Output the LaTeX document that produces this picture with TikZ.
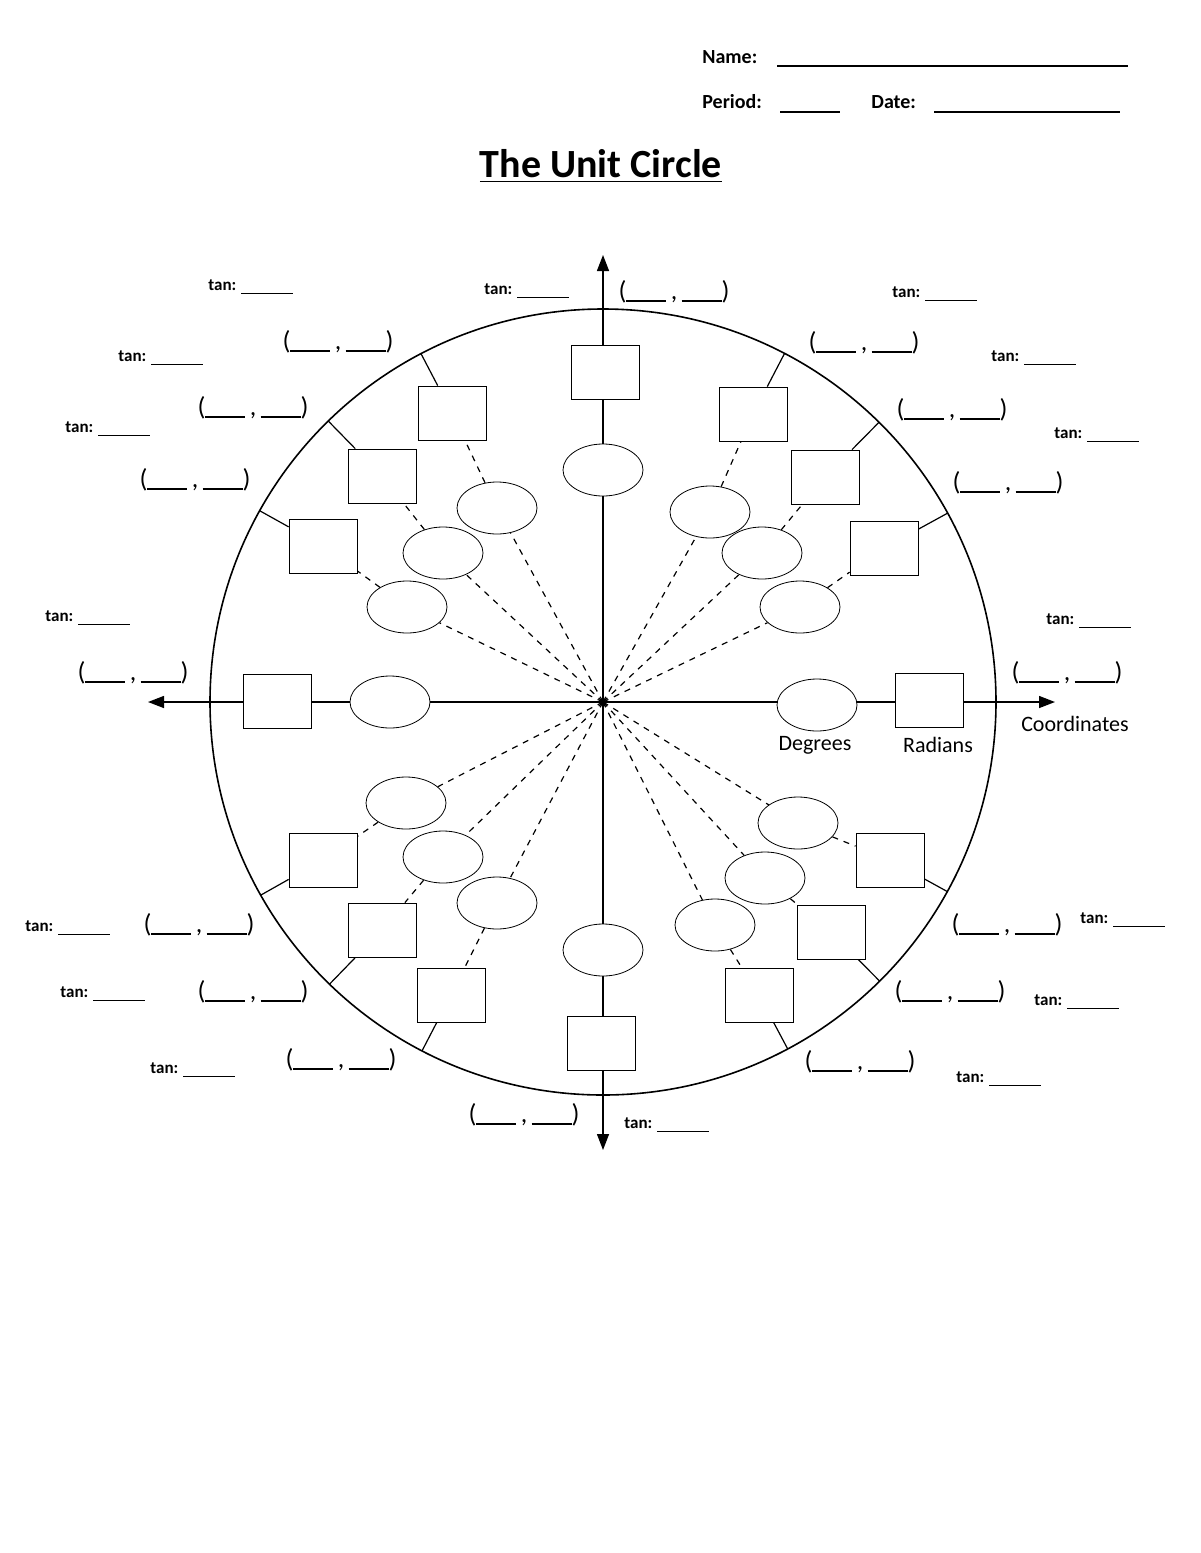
\documentclass[tikz,border=0pt]{standalone}
\usepackage{fontspec}
\setmainfont{Carlito}
\usetikzlibrary{shapes.geometric,calc,backgrounds,arrows.meta}
\begin{document}
\begin{tikzpicture}[x=0.5pt,y=-0.5pt,
  ell/.style={ellipse,draw,fill=white,minimum width=40pt,minimum height=26pt,inner sep=0pt},
  bx/.style={rectangle,draw,fill=white,minimum width=34pt,minimum height=27pt,inner sep=0pt},
  tanlbl/.style={anchor=west,font=\fontsize{8.5}{10}\selectfont\bfseries,inner sep=0pt},
  crd/.style={font=\fontsize{13}{15}\selectfont,inner sep=0pt},
  lbl/.style={font=\fontsize{11}{13}\selectfont,inner sep=0pt}]
\useasboundingbox (0,0) rectangle (1200,1553);
% header
\node[anchor=west,font=\fontsize{10}{12}\selectfont\bfseries,inner sep=0pt] (nm) at (702,57) {Name:};
\coordinate (nm1) at (777,66); \coordinate (nm2) at (1128,66);
\draw[line width=0.6pt] (nm1) -- (nm2);
\node[anchor=west,font=\fontsize{10}{12}\selectfont\bfseries,inner sep=0pt] (pd) at (702,102) {Period:};
\coordinate (pd1) at (780,112); \coordinate (pd2) at (840,112);
\draw[line width=0.6pt] (pd1) -- (pd2);
\node[anchor=west,font=\fontsize{10}{12}\selectfont\bfseries,inner sep=0pt] (dt) at (871,102) {Date:};
\coordinate (dt1) at (934,112); \coordinate (dt2) at (1120,112);
\draw[line width=0.6pt] (dt1) -- (dt2);
\node[font=\fontsize{20}{24}\selectfont\bfseries,inner sep=0pt] (title) at (601,166) {\underline{The Unit Circle}};
% circle and axes
\coordinate (O) at (603,702);
\draw[line width=0.8pt] (O) circle[radius=393];
\coordinate (xl) at (148,702); \coordinate (xr) at (1055,702);
\coordinate (yt) at (603,255); \coordinate (yb) at (603,1150);
\draw[line width=0.7pt,-{Triangle[length=8pt,width=6pt]}] (O) -- (xl);
\draw[line width=0.7pt,-{Triangle[length=8pt,width=6pt]}] (O) -- (xr);
\draw[line width=0.7pt,-{Triangle[length=8pt,width=6pt]}] (O) -- (yt);
\draw[line width=0.7pt,-{Triangle[length=8pt,width=6pt]}] (O) -- (yb);
% ellipses
\foreach \n/\x/\y in {e90/603/470,e0/817/705,e180/390/702,e270/603/950,
  e60/710/512,e45/762/553,e30/800/607,
  e120/497/508,e135/443/553,e150/407/607,
  e210/406/803,e225/443/857,e240/497/903,
  e330/798/823,e315/765/878,e300/715/925}
  \node[ell] (\n) at (\x,\y) {};
% boxes
\foreach \n/\x/\y in {b90/605/372,b0/929/700,b180/277/701,b270/601/1043,
  b60/753/414,b45/825/477,b30/884/548,
  b120/452/413,b135/382/476,b150/323/546,
  b210/323/860,b225/382/930,b240/451/995,
  b330/890/860,b315/831/932,b300/759/995}
  \node[bx] (\n) at (\x,\y) {};
\begin{scope}[on background layer]
\foreach \a in {30,45,60,120,135,150,210,225,240,300,315,330}{
  \draw[dashed,line width=0.6pt] (O) -- (e\a) -- (b\a);
  \draw[line width=0.6pt] (b\a) -- ($(O)!196.5pt!(b\a)$);
}
\end{scope}
% labels
\node[lbl] (deg) at (815,745) {Degrees};
\node[lbl] (rad) at (938,745) {Radians};
\node[lbl] (coo) at (1075,724) {Coordinates};
% coordinate blanks
\foreach \n/\x/\y in {c90/674/292,c60/864/343,c45/952/410,c30/1008/483,c0/1067/673,
  c120/338/342,c135/253/408,c150/195/480,c180/133/673,
  c210/199/925,c225/253/992,c240/341/1060,c270/524/1115,
  c330/1007/925,c315/950/992,c300/860/1062}
  \node[crd] (\n) at (\x,\y) {(\rule[-1pt]{20pt}{0.9pt}\,,\,\rule[-1pt]{20pt}{0.9pt})};
% tan blanks
\foreach \n/\x/\y in {t1/208/287,t2/484/291,t3/892/294,t4/991/358,t5/1054/435,t6/1046/621,
  t7/1080/920,t8/1034/1002,t9/956/1079,t10/624/1125,t11/150/1070,t12/60/994,
  t13/25/928,t14/45/618,t15/65/429,t16/118/358}
  \node[tanlbl] (\n) at (\x,\y) {tan: \rule[-2pt]{26pt}{0.6pt}};
\end{tikzpicture}
\end{document}
